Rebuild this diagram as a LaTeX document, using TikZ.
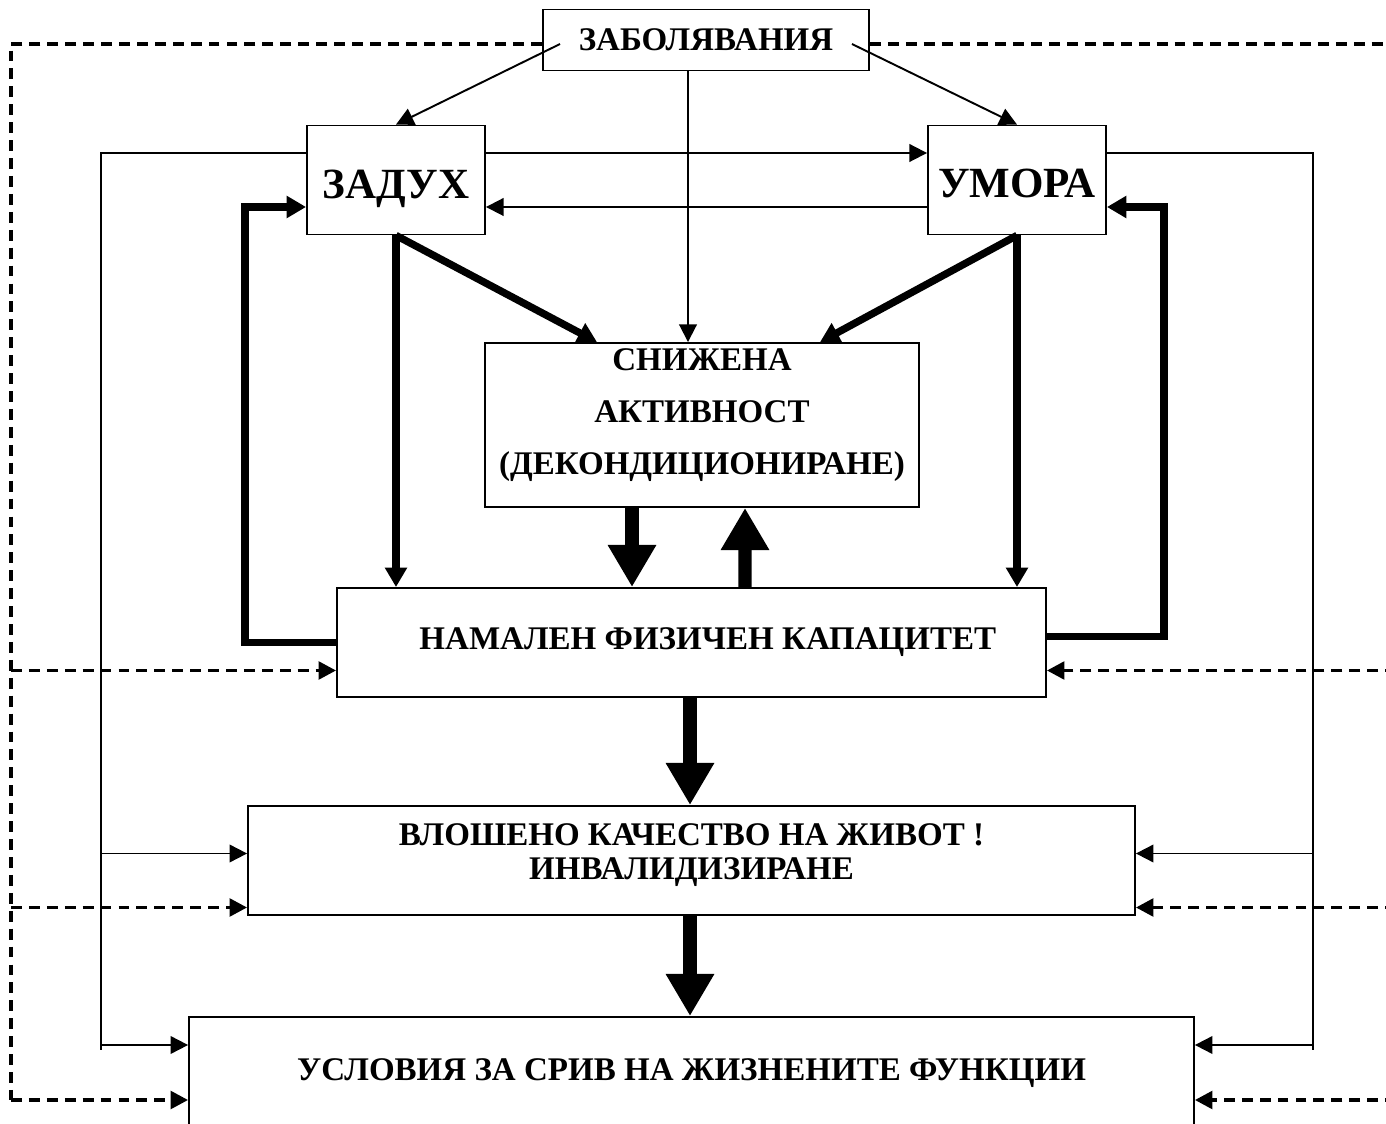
\documentclass[tikz,border=0pt]{standalone}
\usepackage{fontspec}
\setmainfont{Liberation Serif}
\usetikzlibrary{calc,arrows.meta}

\tikzset{
  box/.style={draw, line width=1.1pt, inner sep=0pt, align=center,
    font=\bfseries\fontsize{18.8}{22}\selectfont},
  bigbox/.style={box, minimum width=3.56cm, minimum height=2.18cm,
    font=\bfseries\fontsize{24.5}{28}\selectfont},
  txt/.style={inner sep=0pt, align=center, font=\bfseries\fontsize{18.8}{29.5}\selectfont},
  thinarrow/.style={line width=1.1pt, -{Triangle[length=10pt,width=10pt]}},
  thinline/.style={line width=1.1pt},
  thickarrow/.style={line width=4.2pt, -{Triangle[length=11pt,width=12pt]}},
  fatarrow/.style={line width=7.5pt, -{Triangle[length=24pt,width=26pt]}},
  dashline/.style={line width=2.2pt, dash pattern=on 6.2pt off 4pt},
  dasharrow/.style={dashline, -{Triangle[length=10pt,width=10pt]}}
}

\begin{document}
\begin{tikzpicture}[x={(0.02cm,0)}, y={(0,-0.02cm)}]
  \useasboundingbox (0,0) rectangle (1386,1124);

  % The boxes
  \node[box, minimum width=6.52cm, minimum height=1.22cm] (zab) at (706,40) {ЗАБОЛЯВАНИЯ};
  \node[bigbox] (zad) at (396,180) {\raisebox{-0.38cm}[0pt][0pt]{ЗАДУХ}};
  \node[bigbox] (um) at (1017,180) {\raisebox{-0.36cm}[0pt][0pt]{УМОРА}};
  \node[box, minimum width=8.68cm, minimum height=3.28cm] (sn) at (702,425) {};
  \node[txt] (snt) at ($(sn.center)+(0,-10)$) {СНИЖЕНА\\АКТИВНОСТ\\(ДЕКОНДИЦИОНИРАНЕ)};
  \node[box, minimum width=14.18cm, minimum height=2.18cm] (nam) at (691.5,642.5)
        {\hspace*{0.65cm}НАМАЛЕН ФИЗИЧЕН КАПАЦИТЕТ};
  \node[box, minimum width=17.74cm, minimum height=2.18cm] (vl) at (691.5,860.5) {};
  \node[txt, font=\bfseries\fontsize{18.8}{19.3}\selectfont] (vlt) at ($(vl.center)+(0,-5)$)
        {ВЛОШЕНО КАЧЕСТВО НА ЖИВОТ !\\ИНВАЛИДИЗИРАНЕ};
  \node[box, minimum width=20.1cm, minimum height=2.24cm] (us) at (691.5,1073)
        {УСЛОВИЯ ЗА СРИВ НА ЖИЗНЕНИТЕ ФУНКЦИИ};

  % Helper points for the outer lines
  \coordinate (lbus) at (101,153);
  \coordinate (rbus) at (1313,153);
  \coordinate (ldash) at (11,44);
  \coordinate (rdash) at (1396,44);

  % From the diseases
  \draw[thinarrow] ($(zab.west)+(18,4)$) -- (zad.north);
  \draw[thinarrow] ($(zab.east)+(-18,4)$) -- (um.north);
  \draw[thinarrow] ($(zab.south)+(-18,0)$) -- ($(sn.north)+(-14,0)$);

  % Between the two symptoms
  \draw[thinarrow] ($(zad.east)+(0,-27)$) -- ($(um.west)+(0,-27)$);
  \draw[thinarrow] ($(um.west)+(0,27)$) -- ($(zad.east)+(0,27)$);

  % Symptoms to activity and capacity
  \draw[thickarrow] (zad.south) -- ($(sn.north)+(-105,0)$);
  \draw[thickarrow] (um.south) -- ($(sn.north)+(118,0)$);
  \draw[thickarrow] (zad.south) -- (zad.south |- nam.north);
  \draw[thickarrow] (um.south) -- (um.south |- nam.north);

  % Feedback to the symptoms
  \draw[thickarrow] (nam.west) -- ++(-91,0) |- ($(zad.west)+(0,27)$);
  \draw[thickarrow] ($(nam.east)+(0,-6)$) -- ++(117,0) |- ($(um.east)+(0,27)$);

  % The vicious circle and the way down
  \draw[fatarrow] ($(sn.south)+(-70,0)$) -- ($(nam.north)+(-59.5,0)$);
  \draw[fatarrow] ($(nam.north)+(53.5,0)$) -- ($(sn.south)+(43,0)$);
  \draw[fatarrow] ($(nam.south)+(-1.5,0)$) -- ($(vl.north)+(-1.5,0)$);
  \draw[fatarrow] ($(vl.south)+(-1.5,0)$) -- ($(us.north)+(-1.5,0)$);

  % Thin outer lines
  \draw[thinline] ($(zad.west)+(0,-27)$) -- (lbus) -- ++(0,897);
  \draw[thinline] ($(um.east)+(0,-27)$) -- (rbus) -- ++(0,897);
  \draw[thinarrow] ($(vl.west -| lbus)+(0,-7)$) -- ($(vl.west)+(0,-7)$);
  \draw[thinarrow] ($(us.west -| lbus)+(0,-28)$) -- ($(us.west)+(0,-28)$);
  \draw[thinarrow] ($(vl.east -| rbus)+(0,-7)$) -- ($(vl.east)+(0,-7)$);
  \draw[thinarrow] ($(us.east -| rbus)+(0,-28)$) -- ($(us.east)+(0,-28)$);

  % Dashed outer lines
  \draw[dashline] (zab.west |- ldash) -- (ldash) -- ++(0,1056);
  \draw[dashline] (zab.east |- rdash) -- (rdash) -- ++(0,1056);
  \draw[dasharrow] ($(nam.west -| ldash)+(0,28)$) -- ($(nam.west)+(0,28)$);
  \draw[dasharrow] ($(vl.west -| ldash)+(0,47)$) -- ($(vl.west)+(0,47)$);
  \draw[dasharrow] ($(us.west -| ldash)+(0,27)$) -- ($(us.west)+(0,27)$);
  \draw[dasharrow] ($(nam.east -| rdash)+(0,28)$) -- ($(nam.east)+(0,28)$);
  \draw[dasharrow] ($(vl.east -| rdash)+(0,47)$) -- ($(vl.east)+(0,47)$);
  \draw[dasharrow] ($(us.east -| rdash)+(0,27)$) -- ($(us.east)+(0,27)$);
\end{tikzpicture}
\end{document}
